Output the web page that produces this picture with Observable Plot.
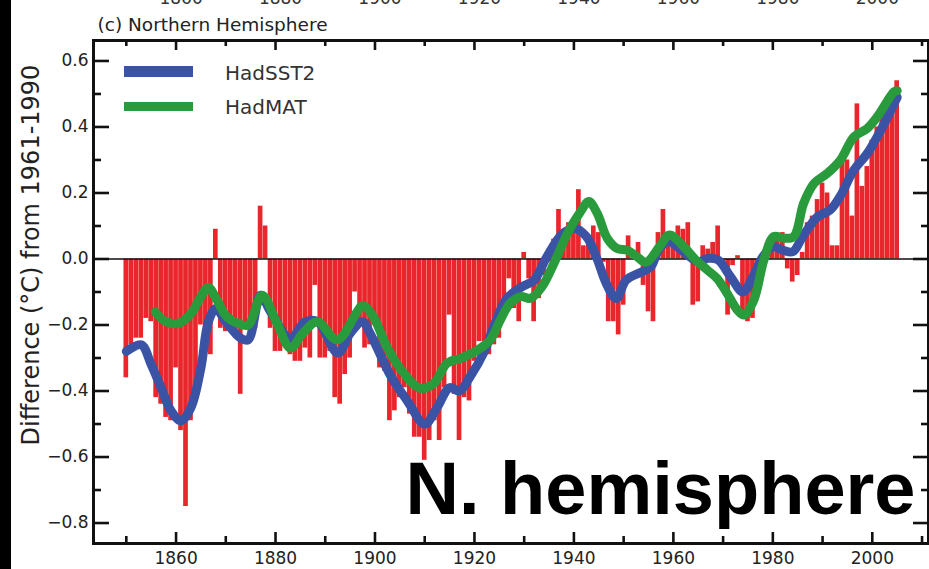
<!DOCTYPE html>
<html>
<head>
<meta charset="utf-8">
<script src="https://cdn.jsdelivr.net/npm/d3@7"></script>
<script src="https://cdn.jsdelivr.net/npm/@observablehq/plot@0.6"></script>
<style>
  html, body { margin: 0; padding: 0; background: #fff; }
  #wrap { position: relative; width: 929px; height: 569px; overflow: hidden; background: #fff; }
  #band { position: absolute; left: 0; top: 0; width: 11px; height: 569px; background: #000; }
  .leg { position: absolute; font-family: "DejaVu Sans"; font-size: 20px; color: #333; line-height: 1; white-space: nowrap; }
  .sw { position: absolute; }
</style>
</head>
<body>
<div id="wrap"></div>
<script>
// ---------- data ----------
const barStartYear = 1850;
const barValues = [
  -0.36,-0.26,-0.24,-0.24,-0.18,-0.19,-0.42,-0.44,-0.48,-0.49, // 1850s
  -0.33,-0.52,-0.75,-0.49,-0.41,-0.20,-0.28,-0.29, 0.09,-0.21, // 1860s
  -0.22,-0.20,-0.24,-0.41,-0.21,-0.22,-0.21, 0.16, 0.10,-0.21, // 1870s
  -0.28,-0.28,-0.26,-0.29,-0.31,-0.31,-0.27,-0.30,-0.08,-0.30, // 1880s
  -0.30,-0.28,-0.42,-0.44,-0.35,-0.30,-0.10,-0.20,-0.27,-0.26, // 1890s
  -0.20,-0.33,-0.34,-0.49,-0.46,-0.42,-0.39,-0.47,-0.54,-0.54, // 1900s
  -0.61,-0.55,-0.49,-0.55,-0.39,-0.17,-0.41,-0.55,-0.42,-0.43, // 1910s
  -0.31,-0.25,-0.25,-0.29,-0.26,-0.24,-0.15,-0.06,-0.15,-0.19, // 1920s
   0.02,-0.06,-0.19,-0.12,-0.05,-0.01, 0.06, 0.15, 0.09, 0.11, // 1930s
   0.08, 0.21, 0.04, 0.07, 0.10, 0.08,-0.01,-0.19,-0.19,-0.23, // 1940s
  -0.14, 0.07, 0.00, 0.05,-0.08,-0.16,-0.19, 0.08, 0.15, 0.04, // 1950s
   0.04, 0.10, 0.09, 0.11,-0.14,-0.13, 0.04, 0.03, 0.05, 0.10, // 1960s
  -0.03,-0.17,-0.02, 0.01,-0.16,-0.19,-0.18,-0.05,-0.03, 0.02, // 1970s
   0.05, 0.06, 0.08,-0.03,-0.07,-0.05, 0.02, 0.11, 0.13, 0.18, // 1980s
   0.23, 0.20, 0.04, 0.04, 0.30, 0.30, 0.13, 0.47, 0.22, 0.28, // 1990s
   0.36, 0.40, 0.44, 0.48, 0.51, 0.54                          // 2000s
];

// HadSST2 smoothed curve (blue)
const sstYears  = [1850,1853,1855,1857,1859,1861,1863,1865,1866.5,1868,1870,1873,1874.5,1877,1879,1883,1886,1888.5,1892.5,1895,1897.5,1899,1903,1906.5,1910,1912.5,1915,1917,1919,1922,1924,1926.5,1929.5,1932,1934.5,1937.5,1940,1942.5,1944.5,1946.5,1948.5,1950.5,1953.5,1955.5,1957,1959,1962,1965,1967,1969,1971.5,1974,1976,1978,1980,1982,1984,1986,1989,1991.5,1993.5,1996.3,1999,2001.7,2005];
const sstValues = [-0.28,-0.26,-0.32,-0.39,-0.46,-0.49,-0.45,-0.33,-0.19,-0.15,-0.19,-0.24,-0.245,-0.11,-0.16,-0.24,-0.19,-0.19,-0.285,-0.225,-0.19,-0.225,-0.35,-0.43,-0.50,-0.45,-0.39,-0.40,-0.36,-0.28,-0.20,-0.12,-0.085,-0.064,0.005,0.073,0.093,0.068,0.007,-0.074,-0.12,-0.064,-0.04,-0.023,0.027,0.053,0.022,-0.008,0.002,-0.003,-0.054,-0.10,-0.054,0.007,0.037,0.027,0.022,0.068,0.128,0.148,0.189,0.27,0.32,0.39,0.49];

// HadMAT smoothed curve (green)
const matYears  = [1855.8,1858,1860.5,1863,1865,1866.5,1868.2,1870.2,1872.5,1874.5,1877.3,1880.3,1883,1885.5,1888.4,1892.4,1896.4,1897.5,1899.5,1902.4,1905.8,1909.1,1911.8,1914.5,1917.2,1920.6,1923.2,1925.2,1927.2,1929.3,1931.3,1933.6,1936,1938.7,1941.3,1943,1944.7,1946.7,1948.7,1950.7,1952.7,1954.5,1957.2,1959.2,1962.1,1964.5,1966.8,1968.8,1970.8,1972.9,1974.2,1976.2,1978.2,1980.2,1982.2,1984.2,1986.2,1988.3,1991,1993.6,1996.3,1999,2001,2004.4,2005];
const matValues = [-0.16,-0.19,-0.195,-0.165,-0.114,-0.086,-0.124,-0.175,-0.195,-0.20,-0.11,-0.195,-0.27,-0.225,-0.19,-0.245,-0.16,-0.14,-0.17,-0.266,-0.346,-0.392,-0.377,-0.316,-0.301,-0.276,-0.245,-0.185,-0.134,-0.114,-0.119,-0.084,-0.013,0.078,0.143,0.174,0.138,0.063,0.032,0.027,0.007,-0.01,0.037,0.073,0.037,-0.003,-0.033,-0.059,-0.104,-0.155,-0.17,-0.124,-0.003,0.068,0.063,0.068,0.169,0.229,0.26,0.30,0.37,0.396,0.431,0.507,0.51];

const xMajor = [1860,1880,1900,1920,1940,1960,1980,2000];
const xMinor = [1850,1870,1890,1910,1930,1950,1970,1990,2010];
const yMajor = [-0.8,-0.6,-0.4,-0.2,0.0,0.2,0.4,0.6];
const yMinor = [-0.7,-0.5,-0.3,-0.1,0.1,0.3,0.5];

const seriesNames = ["HadSST2","HadMAT"];
const seriesColors = ["#3B53A4","#2A9B3C"];
const barColor = "#E8262B";
const yTitle = "Difference (°C) from 1961-1990";
const panelTitle = "(c) Northern Hemisphere";
const bigLabel = "N. hemisphere";

// ---------- tables ----------
const bars = barValues.map((v, i) => ({year: barStartYear + i, value: v}));
const sst = sstYears.map((y, i) => ({year: y, value: sstValues[i]}));
const mat = matYears.map((y, i) => ({year: y, value: matValues[i]}));

// ---------- layout ----------
const W = 929, H = 569, mL = 93, mT = 40, mR = 1, mB = 26;
const plotH = H - mT - mB;
const plotW = W - mL - mR;
const tickStyle = {stroke: "#111", strokeWidth: 2.6};

const chart = Plot.plot({
  width: W, height: H,
  marginLeft: mL, marginTop: mT, marginRight: mR, marginBottom: mB,
  style: {fontFamily: "DejaVu Sans", background: "white", color: "#222", overflow: "visible"},
  x: {domain: [1843.4, 2011.3]},
  y: {domain: [-0.862, 0.662]},
  marks: [
    Plot.rectY(bars, {x1: d => d.year - 0.5, x2: d => d.year + 0.5, y: "value", fill: barColor, insetLeft: 0.15, insetRight: 0.15}),
    Plot.ruleY([0], {stroke: "#111", strokeWidth: 1.6}),
    Plot.line(sst, {x: "year", y: "value", stroke: seriesColors[0], strokeWidth: 9, curve: "catmull-rom"}),
    Plot.line(mat, {x: "year", y: "value", stroke: seriesColors[1], strokeWidth: 9, curve: "catmull-rom"}),
    // inward ticks
    Plot.tickX(xMajor, {x: d => d, insetTop: plotH - 11, ...tickStyle}),
    Plot.tickX(xMinor, {x: d => d, insetTop: plotH - 7, ...tickStyle}),
    Plot.tickX(xMajor, {x: d => d, insetBottom: plotH - 10, ...tickStyle}),
    Plot.tickX(xMinor, {x: d => d, insetBottom: plotH - 6, ...tickStyle}),
    Plot.tickY(yMajor, {y: d => d, insetRight: plotW - 16, ...tickStyle}),
    Plot.tickY(yMinor, {y: d => d, insetRight: plotW - 8, ...tickStyle}),
    Plot.tickY(yMajor, {y: d => d, insetLeft: plotW - 15, ...tickStyle}),
    Plot.tickY(yMinor, {y: d => d, insetLeft: plotW - 7, ...tickStyle}),
    Plot.frame({stroke: "#111", strokeWidth: 3}),
    // tick labels
    Plot.axisX(xMajor, {anchor: "bottom", tickSize: 0, tickPadding: 8, fontSize: 17, label: null, fill: "#222", tickFormat: d => String(d)}),
    Plot.axisX(xMajor, {anchor: "top", tickSize: 0, tickPadding: 37, dx: 5, fontSize: 17, label: null, fill: "#333", tickFormat: d => String(d)}),
    Plot.axisY(yMajor, {anchor: "left", tickSize: 0, tickPadding: 5, fontSize: 17, label: null, fill: "#222", tickFormat: d3.format(".1f")}),
    // texts
    Plot.text([yTitle], {frameAnchor: "left", rotate: -90, dx: -55, dy: -37, fontSize: 24, lineAnchor: "bottom", textAnchor: "middle", fill: "#222"}),
    Plot.text([panelTitle], {frameAnchor: "top-left", textAnchor: "start", lineAnchor: "bottom", dx: 4, dy: -10, fontSize: 18.5, fill: "#222"}),
    Plot.text([bigLabel], {frameAnchor: "bottom-right", textAnchor: "end", lineAnchor: "bottom", dx: -13, dy: -30, fontSize: 74, fontWeight: "bold", fontFamily: "Liberation Sans", fill: "#000"})
  ]
});

const wrap = document.getElementById("wrap");
wrap.appendChild(chart);

// left black band (edge of the scanned page)
const band = document.createElement("div");
band.id = "band";
wrap.appendChild(band);

// legend
const legendRows = [
  {name: seriesNames[0], color: seriesColors[0], top: 66, h: 11, textTop: 63},
  {name: seriesNames[1], color: seriesColors[1], top: 102, h: 9, textTop: 97}
];
for (const r of legendRows) {
  const sw = document.createElement("div");
  sw.className = "sw";
  sw.style.cssText = `left:124px;top:${r.top}px;width:69px;height:${r.h}px;background:${r.color};`;
  wrap.appendChild(sw);
  const t = document.createElement("div");
  t.className = "leg";
  t.style.left = "225px";
  t.style.top = r.textTop + "px";
  t.textContent = r.name;
  wrap.appendChild(t);
}
</script>
</body>
</html>
